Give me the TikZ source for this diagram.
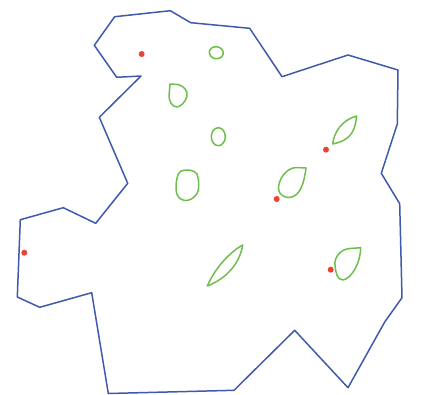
\documentclass[tikz,border=0pt]{standalone}
\begin{document}
\begin{tikzpicture}[x=1pt,y=-1pt,
  wall/.style={draw=wallblue,line width=1.5pt,line join=round},
  blob/.style={draw=blobgreen,line width=1.5pt,line join=round},
  spot/.style={fill=spotred,draw=none}]
\definecolor{wallblue}{HTML}{3F5AAA}
\definecolor{blobgreen}{HTML}{6DBE4C}
\definecolor{spotred}{HTML}{EA4335}
\useasboundingbox (0,0) rectangle (426,394);
% outline
\draw[wall] (114.7,16.7) -- (170.3,10.7) -- (190.7,22.7) -- (249.7,28.3) -- (282,76.7) -- (348,55) -- (398,70) -- (397.3,124) -- (381.3,173.3) -- (399.7,203.7) -- (402,297.7) -- (384.7,322) -- (348,387.7) -- (294.7,330.3) -- (234,390.3) -- (108.3,393.5) -- (91.7,292.7) -- (39.7,307.3) -- (17.3,297) -- (20.3,219.7) -- (63.3,207.7) -- (95.7,223.3) -- (127.7,183.3) -- (99.3,117.3) -- (141,76) -- (116.7,77.3) -- (94.3,45.3) -- cycle;
% green shapes
\draw[blob,rotate around={-10:(216.3,52.7)}] (216.3,52.7) ellipse [x radius=7, y radius=6];
\draw[blob] (218.3,136.7) ellipse [x radius=7, y radius=9];
\draw[blob] (170,84) -- (178,84.5) .. controls (184,86) and (188,91) .. (187,96) .. controls (186,102) and (180,107) .. (177,107) .. controls (172,107) and (169,101) .. (169,96) -- cycle;
\draw[blob] (181,171) .. controls (186,169) and (195,170) .. (197,174) .. controls (199,180) and (200,190) .. (196,195) .. controls (193,199) and (188,201) .. (185,200.5) .. controls (180,200) and (176,196) .. (176,189) .. controls (176,182) and (177,173) .. (181,171) -- cycle;
\draw[blob] (207.3,286) .. controls (215,268) and (230,252) .. (242.7,245) .. controls (240,262) and (228,278) .. (207.3,286) -- cycle;
\draw[blob] (332.7,144) .. controls (334,132) and (342,120) .. (356.7,116) .. controls (355,130) and (352,140) .. (332.7,144) -- cycle;
\draw[blob] (306,168) -- (296,167.5) .. controls (286,168) and (278,180) .. (278.5,189) .. controls (279,195) and (285,198) .. (290,197.5) .. controls (300,196) and (304,184) .. (306,168) -- cycle;
\draw[blob] (360.7,247.7) -- (350,248.5) .. controls (340,249) and (334,258) .. (335,265) .. controls (335.5,272) and (337,280) .. (343,280) .. controls (350,279) and (360,266) .. (360.7,247.7) -- cycle;
% red spots
\fill[spot] (141.7,54) circle (3);
\fill[spot] (24.3,252.7) circle (3);
\fill[spot] (326,149.7) circle (3);
\fill[spot] (276.7,199) circle (3);
\fill[spot] (330.7,269.7) circle (3);
\end{tikzpicture}
\end{document}
